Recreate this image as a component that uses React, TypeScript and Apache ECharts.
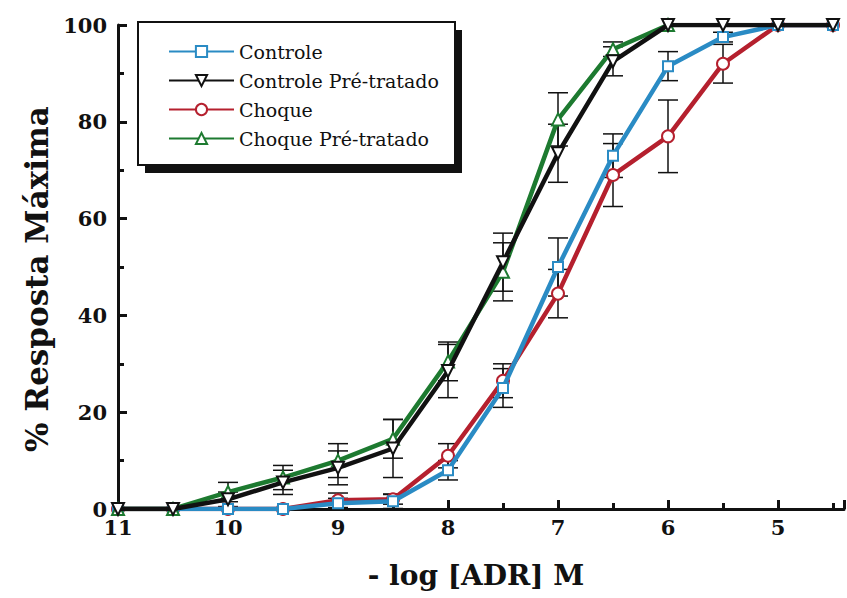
import React, { useEffect, useRef } from "react";
import * as echarts from "echarts";

// -log [ADR] M
const xVals = [11, 10.5, 10, 9.5, 9, 8.5, 8, 7.5, 7, 6.5, 6, 5.5, 5, 4.5];

const controle = [0, 0, 0, 0, 1.2, 1.6, 8, 25, 50, 73, 91.5, 97.5, 100, 100];
const controleSem = [0, 0, 0, 0, 1, 1.5, 2, 4, 6, 4.5, 3, 1, 0, 0];

const controlePre = [0, 0, 2, 5.5, 8.5, 12.5, 28.5, 51, 73.5, 92.5, 100, 100, 100, 100];
const controlePreSem = [0, 0, 1.5, 2.5, 3.5, 6, 5.5, 6, 6, 3, 0, 0, 0, 0];

const choque = [0, 0, 0, 0, 1.8, 2, 11, 26.5, 44.5, 69, 77, 92, 100, 100];
const choqueSem = [0, 0, 0, 0, 1.5, 1, 2.5, 3.5, 5, 6.5, 7.5, 4, 0, 0];

const choquePre = [0, 0, 3.5, 6.5, 10, 14.5, 30.5, 49, 80.5, 95, 100, null, null, null];
const choquePreSem = [0, 0, 2, 2.5, 3.5, 4, 4, 6, 5.5, 1.5, 0, 0, 0, 0];

const yTicks = [0, 20, 40, 60, 80, 100];

const names = ["Controle", "Controle Pré-tratado", "Choque", "Choque Pré-tratado"];
const colors = ["#2a8bc4", "#111111", "#b5202e", "#1d7a30"];

const FONT = "DejaVu Serif";

function pts(vals: (number | null)[]) {
  return xVals
    .map((x, i) => (vals[i] === null ? null : [-x, vals[i]]))
    .filter((p) => p !== null) as number[][];
}

function errPts(vals: (number | null)[], sem: number[]) {
  return xVals
    .map((x, i) => (vals[i] === null || !sem[i] ? null : [-x, vals[i], sem[i]]))
    .filter((p) => p !== null) as number[][];
}

function errSeries(vals: (number | null)[], sem: number[]) {
  return {
    type: "custom",
    z: 1,
    silent: true,
    encode: { x: 0, y: 1 },
    data: errPts(vals, sem),
    renderItem: (params: any, api: any) => {
      const x = api.value(0);
      const y = api.value(1);
      const e = api.value(2);
      const top = api.coord([x, y + e]);
      const bot = api.coord([x, y - e]);
      const hw = 10;
      const st = { stroke: "#111", lineWidth: 1.5 };
      return {
        type: "group",
        children: [
          { type: "line", shape: { x1: top[0], y1: top[1], x2: bot[0], y2: bot[1] }, style: st },
          { type: "line", shape: { x1: top[0] - hw, y1: top[1], x2: top[0] + hw, y2: top[1] }, style: st },
          { type: "line", shape: { x1: bot[0] - hw, y1: bot[1], x2: bot[0] + hw, y2: bot[1] }, style: st },
        ],
      };
    },
  };
}

function lineSeries(name: string, color: string, vals: (number | null)[], symbol: string, rotate: number, size: number, z: number) {
  return {
    name,
    type: "line",
    z,
    data: pts(vals),
    symbol,
    symbolSize: size,
    symbolRotate: rotate,
    showAllSymbol: true,
    clip: true,
    lineStyle: { color, width: 4.5 },
    itemStyle: { color: "#ffffff", borderColor: color, borderWidth: 2 },
    emphasis: { disabled: true },
  };
}

export default function App() {
  const ref = useRef<HTMLDivElement>(null);
  useEffect(() => {
    if (!ref.current) return;
    const chart = echarts.init(ref.current, null, { renderer: "svg" });
    chart.setOption({
      animation: false,
      backgroundColor: "#ffffff",
      textStyle: { fontFamily: FONT },
      grid: { left: 118, right: 3, top: 25, bottom: 89 },
      xAxis: {
        type: "value",
        min: -11,
        max: -4.4,
        interval: 1,
        name: "- log [ADR] M",
        nameLocation: "middle",
        nameGap: 52,
        nameTextStyle: { fontFamily: FONT, fontWeight: "bold", fontSize: 28, color: "#111", padding: [0, 10, 0, 0] },
        axisLine: { show: true, lineStyle: { color: "#111", width: 3 } },
        axisTick: { show: true, inside: true, length: 9, lineStyle: { color: "#111", width: 3 } },
        minorTick: { show: true, splitNumber: 2, length: 6, lineStyle: { color: "#111", width: 3 } },
        splitLine: { show: false },
        axisLabel: {
          margin: 8,
          fontFamily: FONT,
          fontWeight: "bold",
          fontSize: 21,
          color: "#111",
          formatter: (v: number) => (Number.isInteger(v) ? String(-v) : ""),
        },
      },
      yAxis: {
        type: "value",
        min: yTicks[0],
        max: yTicks[yTicks.length - 1],
        interval: 20,
        name: "% Resposta Máxima",
        nameLocation: "middle",
        nameGap: 34,
        nameTextStyle: { fontFamily: FONT, fontWeight: "bold", fontSize: 31, color: "#111", padding: [0, 24, 0, 0] },
        axisLine: { show: true, lineStyle: { color: "#111", width: 3 } },
        axisTick: { show: true, inside: true, length: 9, lineStyle: { color: "#111", width: 3 } },
        minorTick: { show: true, splitNumber: 2, length: 6, lineStyle: { color: "#111", width: 3 } },
        splitLine: { show: false },
        axisLabel: { margin: 11, fontFamily: FONT, fontWeight: "bold", fontSize: 21, color: "#111" },
      },
      legend: {
        show: true,
        orient: "vertical",
        left: 168,
        top: 42,
        padding: 0,
        itemGap: 10,
        itemWidth: 65,
        itemHeight: 14,
        data: names,
        textStyle: { fontFamily: FONT, fontSize: 19, color: "#111" },
        z: 20,
      },
      graphic: [
        { type: "rect", z: 15, shape: { x: 145, y: 30, width: 317, height: 143 }, style: { fill: "#111" } },
        { type: "rect", z: 16, shape: { x: 138, y: 22, width: 317, height: 143 }, style: { fill: "#fff", stroke: "#111", lineWidth: 2 } },
      ],
      series: [
        errSeries(controle, controleSem),
        errSeries(choque, choqueSem),
        errSeries(controlePre, controlePreSem),
        errSeries(choquePre, choquePreSem),
        lineSeries(names[2], colors[2], choque, "circle", 0, 12, 2),
        lineSeries(names[0], colors[0], controle, "rect", 0, 10, 3),
        lineSeries(names[3], colors[3], choquePre, "triangle", 0, 12, 4),
        lineSeries(names[1], colors[1], controlePre, "triangle", 180, 12, 5),
      ],
    });
    return () => chart.dispose();
  }, []);
  return <div ref={ref} style={{ width: 847, height: 598, position: "absolute", left: 0, top: 0 }} />;
}
